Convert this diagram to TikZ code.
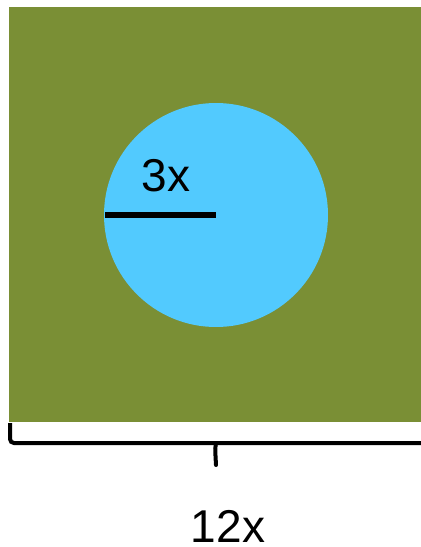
\documentclass[tikz,border=0pt]{standalone}
\usepackage{fontspec}
\setmainfont{Liberation Sans}
\definecolor{fieldgreen}{RGB}{122,143,53}
\definecolor{poolblue}{RGB}{82,202,254}

\begin{document}
\begin{tikzpicture}[x=0.5pt, y=-0.5pt, every node/.style={font=\fontsize{23}{27}\selectfont}]
  \useasboundingbox (0,0) rectangle (420,547);
  % Field
  \fill[fieldgreen] (9,7) rectangle (424,422);

  % Pool and radius
  \node[circle, fill=poolblue, minimum size=112pt, inner sep=0pt] (pool) at (216,215) {};
  \coordinate (rim) at (105,215);
  \draw[line width=2.8pt] (rim) -- (pool.center);
  \node (radius) at (166,176) {3x};

  % Brace
  \coordinate (bl) at (10,423);
  \coordinate (br) at (426,443);
  \coordinate (tip) at (216,465);
  \draw[line width=2pt, rounded corners=2pt] (bl) -- (10,443) -- (br);
  \draw[line width=2pt, line cap=round] (216,443) .. controls (215,447) .. (tip);
  \node (width) at (228,526) {12x};
\end{tikzpicture}
\end{document}
